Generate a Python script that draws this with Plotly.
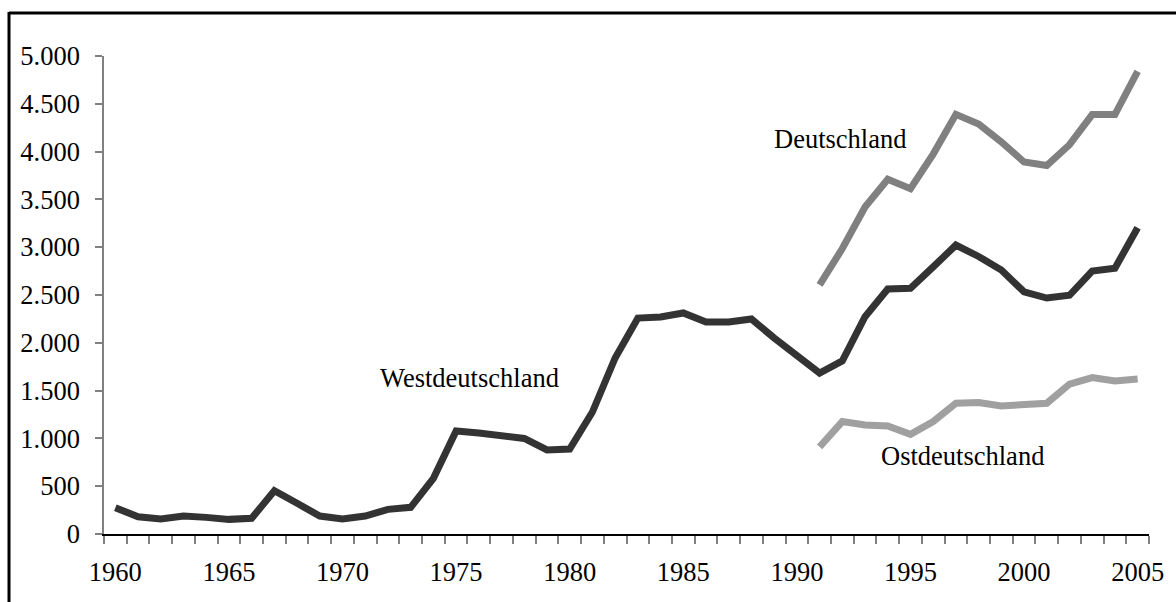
import plotly.graph_objects as go

years_west = list(range(1960, 2006))
west = [275, 181, 157, 188, 174, 153, 164, 453, 321, 188,
        157, 188, 258, 279, 582, 1077, 1056, 1025, 1000, 879,
        889, 1276, 1841, 2259, 2270, 2312, 2218, 2218, 2249, 2050,
        1870, 1683, 1810, 2273, 2562, 2570, 2794, 3022, 2903, 2761,
        2533, 2468, 2497, 2751, 2780, 3203]
years_unified = list(range(1991, 2006))
deutschland = [2606, 2986, 3420, 3710, 3612, 3974, 4390, 4289, 4101, 3891,
               3854, 4072, 4387, 4387, 4839]
ost = [912, 1176, 1140, 1129, 1042, 1176, 1368, 1375, 1339, 1357,
       1368, 1567, 1636, 1600, 1621]

x_labels = list(range(1960, 2006, 5))
y_ticks = list(range(0, 5001, 500))
y_text = [f"{v:,}".replace(",", ".") for v in y_ticks]

W, H = 1176, 602
L, R, T, B = 104, 1149, 56, 534
FONT = "Liberation Serif, Times New Roman, serif"
FS = 26.5

fig = go.Figure()
fig.add_trace(go.Scatter(x=years_west, y=west, mode="lines",
                         line=dict(color="#333333", width=7), name="Westdeutschland"))
fig.add_trace(go.Scatter(x=years_unified, y=deutschland, mode="lines",
                         line=dict(color="#808080", width=7), name="Deutschland"))
fig.add_trace(go.Scatter(x=years_unified, y=ost, mode="lines",
                         line=dict(color="#a0a0a0", width=7), name="Ostdeutschland"))

def px_x(p):
    return (p - L) / (R - L)

def px_y(p):
    return (B - p) / (B - T)

shapes = [
    dict(type="line", xref="paper", yref="paper", x0=px_x(9), x1=px_x(W + 5),
         y0=px_y(13), y1=px_y(13), line=dict(color="black", width=3)),
    dict(type="line", xref="paper", yref="paper", x0=px_x(9), x1=px_x(9),
         y0=px_y(12), y1=px_y(H + 5), line=dict(color="black", width=3)),
]

annotations = [
    dict(x=1975.6, y=1632, text="Westdeutschland", showarrow=False,
         font=dict(family=FONT, size=FS, color="black")),
    dict(x=1991.9, y=4132, text="Deutschland", showarrow=False,
         font=dict(family=FONT, size=FS, color="black")),
    dict(x=1997.3, y=816, text="Ostdeutschland", showarrow=False,
         font=dict(family=FONT, size=FS, color="black")),
]

fig.update_layout(
    width=W, height=H,
    margin=dict(l=L, r=W - R, t=T, b=H - B, pad=0),
    paper_bgcolor="white", plot_bgcolor="white",
    showlegend=False,
    shapes=shapes, annotations=annotations,
    font=dict(family=FONT, size=FS, color="black"),
    xaxis=dict(range=[1959.5, 2005.5], tickmode="array", tickvals=x_labels,
               ticktext=[str(v) for v in x_labels], ticks="", showgrid=False,
               zeroline=False, showline=True, linecolor="black", linewidth=1.5,
               ticklabelstandoff=13,
               minor=dict(tickmode="linear", tick0=1959.5, dtick=1, ticks="outside",
                          ticklen=8, tickcolor="#808080", tickwidth=1.5, showgrid=False),
               tickfont=dict(family=FONT, size=FS, color="black")),
    yaxis=dict(range=[0, 5000], tickmode="array", tickvals=y_ticks, ticktext=y_text,
               ticks="outside", ticklen=7, tickcolor="#808080", tickwidth=1.5,
               showgrid=False, zeroline=False, showline=True, linecolor="#808080",
               linewidth=1.5, ticklabelstandoff=10,
               tickfont=dict(family=FONT, size=FS, color="black")),
)

fig.write_html(
    "out.html",
    config={"displayModeBar": False},
    post_script="document.body.style.margin='0';document.body.style.overflow='hidden';",
)
